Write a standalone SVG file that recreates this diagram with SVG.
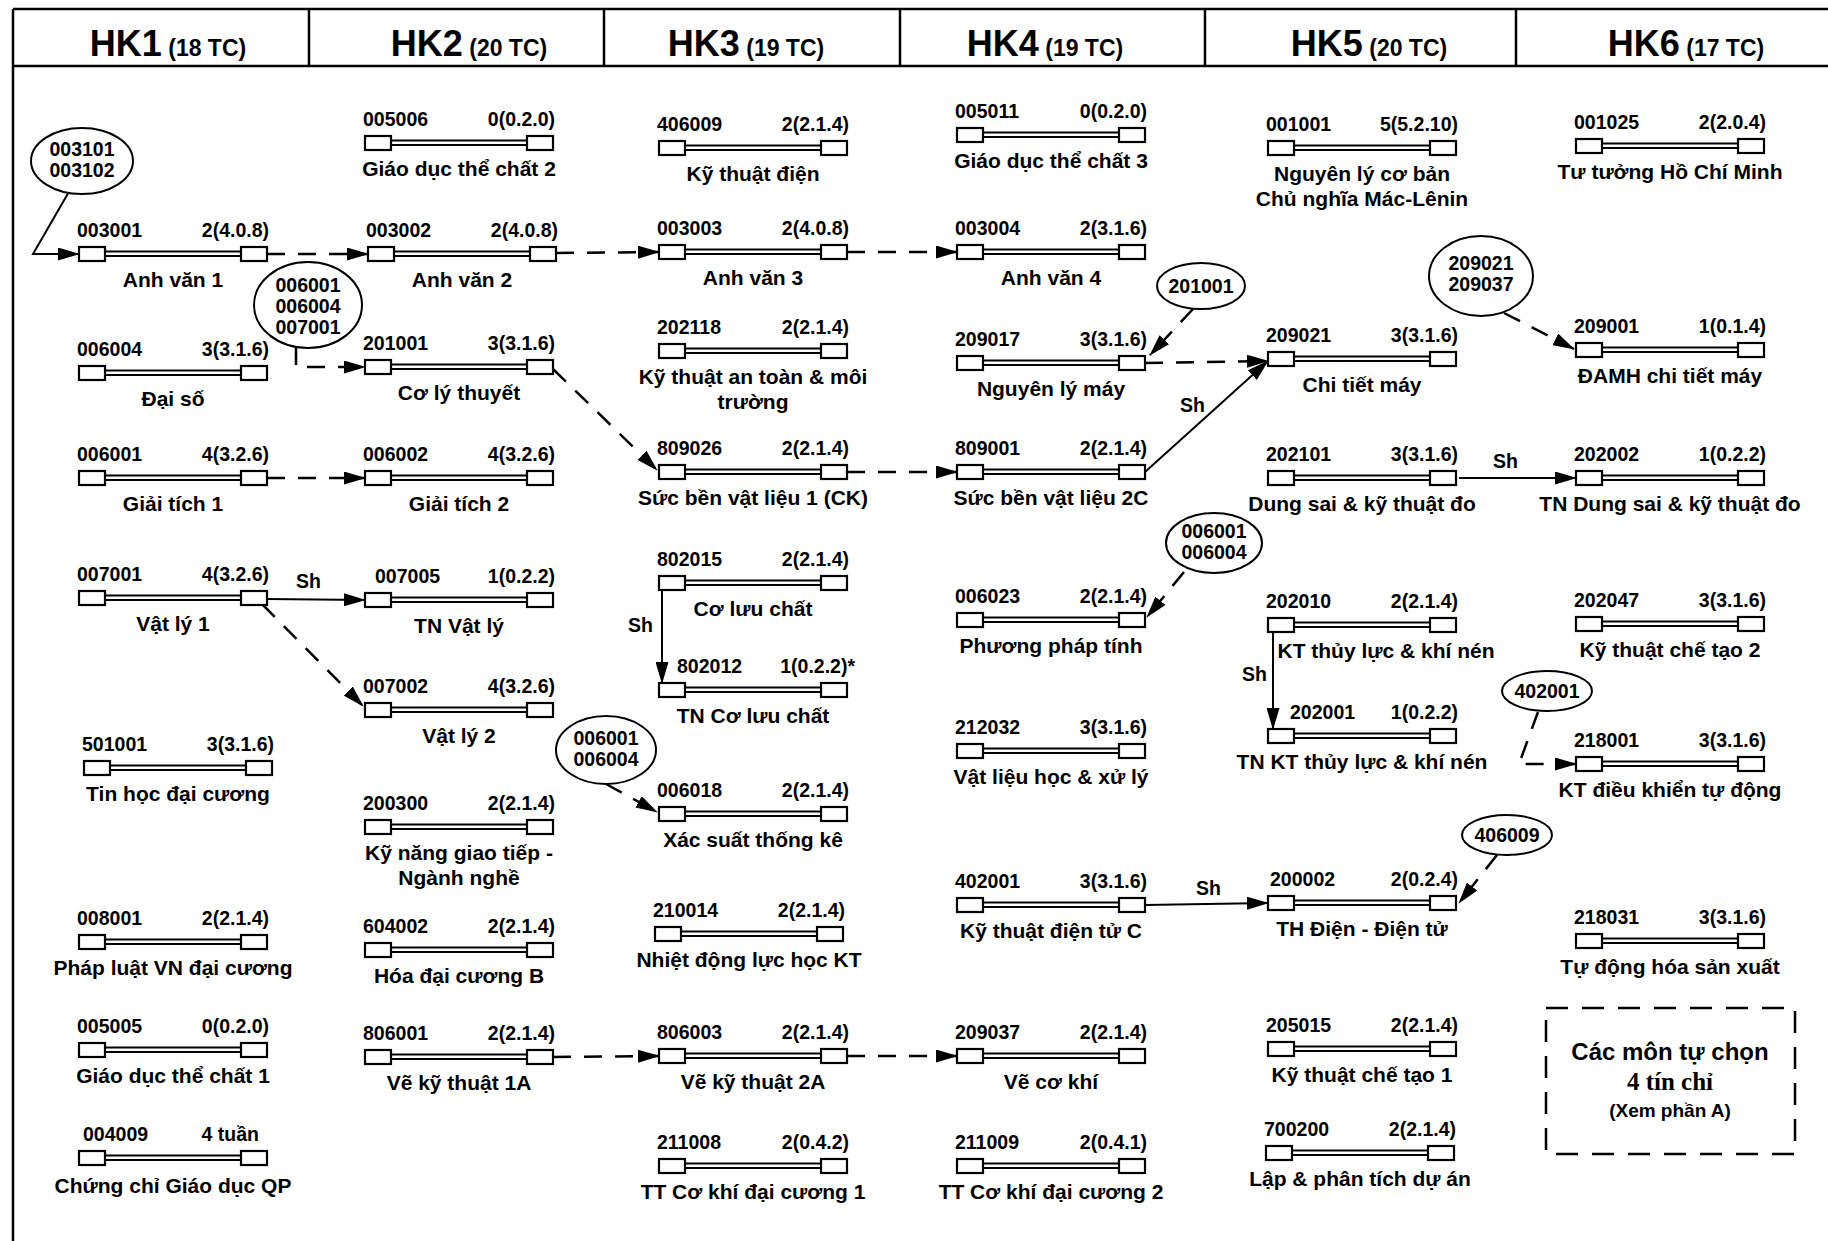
<svg xmlns="http://www.w3.org/2000/svg" xmlns:xlink="http://www.w3.org/1999/xlink" width="1828" height="1241" viewBox="0 0 1828 1241">
<style>
.t{font-family:"Liberation Sans",Arial,sans-serif;font-weight:bold;font-size:19.5px;fill:#000}
.lb{font-family:"Liberation Sans",Arial,sans-serif;font-weight:bold;font-size:21px;fill:#000;text-anchor:middle}
.e{text-anchor:end}
.m{text-anchor:middle}
.hk{font-family:"Liberation Sans",Arial,sans-serif;font-weight:bold;font-size:36px;text-anchor:middle}
.hs{font-size:23px}
.box{fill:#fff;stroke:#000;stroke-width:2.2}
.dl{stroke:#000;stroke-width:2}
.fr{stroke:#000;stroke-width:2.5;fill:none}
.ell{fill:#fff;stroke:#000;stroke-width:2}
.sol{stroke:#000;stroke-width:2;fill:none}
.das{stroke:#000;stroke-width:2.5;fill:none;stroke-dasharray:18 13}
</style>
<defs>
<marker id="ah" markerWidth="22" markerHeight="13" refX="21" refY="6.5" orient="auto" markerUnits="userSpaceOnUse">
<path d="M0,0 L22,6.5 L0,13 z" fill="#000"/>
</marker>
<g id="bar">
<line x1="24" y1="-2.5" x2="164" y2="-2.5" class="dl"/>
<line x1="24" y1="2" x2="164" y2="2" class="dl"/>
<rect x="0" y="-7" width="26" height="14" class="box"/>
<rect x="162" y="-7" width="26" height="14" class="box"/>
</g>
</defs>
<rect width="1828" height="1241" fill="#fff"/>
<g id="frame">
<line x1="13" y1="9" x2="1828" y2="9" class="fr"/>
<line x1="13" y1="66" x2="1828" y2="66" class="fr"/>
<line x1="13" y1="9" x2="13" y2="1241" class="fr"/>
<line x1="309" y1="9" x2="309" y2="66" class="fr"/>
<line x1="604" y1="9" x2="604" y2="66" class="fr"/>
<line x1="900" y1="9" x2="900" y2="66" class="fr"/>
<line x1="1205" y1="9" x2="1205" y2="66" class="fr"/>
<line x1="1516" y1="9" x2="1516" y2="66" class="fr"/>
<text class="hk" x="168" y="56">HK1<tspan class="hs"> (18 TC)</tspan></text>
<text class="hk" x="469" y="56">HK2<tspan class="hs"> (20 TC)</tspan></text>
<text class="hk" x="746" y="56">HK3<tspan class="hs"> (19 TC)</tspan></text>
<text class="hk" x="1045" y="56">HK4<tspan class="hs"> (19 TC)</tspan></text>
<text class="hk" x="1369" y="56">HK5<tspan class="hs"> (20 TC)</tspan></text>
<text class="hk" x="1686" y="56">HK6<tspan class="hs"> (17 TC)</tspan></text>
</g>
<g id="connectors">
<polyline points="70,190 33,254 79,254" class="sol" marker-end="url(#ah)"/>
<line x1="267" y1="254" x2="368" y2="254" class="das" marker-end="url(#ah)"/>
<line x1="556" y1="253" x2="659" y2="252" class="das" marker-end="url(#ah)"/>
<line x1="847" y1="252" x2="957" y2="252" class="das" marker-end="url(#ah)"/>
<polyline points="296,347 296,367 365,367" class="das" marker-end="url(#ah)"/>
<line x1="553" y1="369" x2="657" y2="470" class="das" marker-end="url(#ah)"/>
<line x1="847" y1="472" x2="957" y2="472" class="das" marker-end="url(#ah)"/>
<line x1="1145" y1="472" x2="1268" y2="361" class="sol" marker-end="url(#ah)"/>
<text class="t" x="1180" y="412">Sh</text>
<line x1="1145" y1="363" x2="1268" y2="361" class="das" marker-end="url(#ah)"/>
<line x1="1193" y1="309" x2="1150" y2="355" class="das" marker-end="url(#ah)"/>
<line x1="267" y1="478" x2="365" y2="478" class="das" marker-end="url(#ah)"/>
<line x1="267" y1="599" x2="365" y2="600" class="sol" marker-end="url(#ah)"/>
<text class="t" x="296" y="588">Sh</text>
<line x1="262" y1="604" x2="363" y2="706" class="das" marker-end="url(#ah)"/>
<line x1="662" y1="590" x2="662" y2="683" class="sol" marker-end="url(#ah)"/>
<text class="t" x="628" y="632">Sh</text>
<line x1="606" y1="784" x2="657" y2="812" class="das" marker-end="url(#ah)"/>
<line x1="1184" y1="572" x2="1147" y2="617" class="das" marker-end="url(#ah)"/>
<line x1="553" y1="1057" x2="659" y2="1056" class="das" marker-end="url(#ah)"/>
<line x1="847" y1="1056" x2="957" y2="1056" class="das" marker-end="url(#ah)"/>
<line x1="1145" y1="905" x2="1268" y2="903" class="sol" marker-end="url(#ah)"/>
<text class="t" x="1196" y="895">Sh</text>
<line x1="1497" y1="855" x2="1459" y2="903" class="das" marker-end="url(#ah)"/>
<line x1="1459" y1="478" x2="1576" y2="478" class="sol" marker-end="url(#ah)"/>
<text class="t" x="1493" y="468">Sh</text>
<line x1="1504" y1="313" x2="1574" y2="349" class="das" marker-end="url(#ah)"/>
<line x1="1273" y1="632" x2="1273" y2="729" class="sol" marker-end="url(#ah)"/>
<text class="t" x="1242" y="681">Sh</text>
<polyline points="1538,712 1519,764 1576,764" class="das" marker-end="url(#ah)"/>
</g>
<g id="ellipses">
<g id="e003101"><ellipse cx="82" cy="161" rx="51" ry="33" class="ell"/><text class="t m" x="82" y="156">003101</text><text class="t m" x="82" y="177">003102</text></g>
<g id="e006001a"><ellipse cx="308" cy="305" rx="54" ry="43" class="ell"/><text class="t m" x="308" y="292">006001</text><text class="t m" x="308" y="313">006004</text><text class="t m" x="308" y="334">007001</text></g>
<g id="e006001b"><ellipse cx="606" cy="750" rx="50" ry="34" class="ell"/><text class="t m" x="606" y="745">006001</text><text class="t m" x="606" y="766">006004</text></g>
<g id="e201001"><ellipse cx="1201" cy="286" rx="44" ry="23" class="ell"/><text class="t m" x="1201" y="293">201001</text></g>
<g id="e006001c"><ellipse cx="1214" cy="543" rx="48" ry="30" class="ell"/><text class="t m" x="1214" y="538">006001</text><text class="t m" x="1214" y="559">006004</text></g>
<g id="e209021"><ellipse cx="1481" cy="276" rx="52" ry="40" class="ell"/><text class="t m" x="1481" y="270">209021</text><text class="t m" x="1481" y="291">209037</text></g>
<g id="e402001"><ellipse cx="1547" cy="691" rx="45" ry="20" class="ell"/><text class="t m" x="1547" y="698">402001</text></g>
<g id="e406009"><ellipse cx="1507" cy="835" rx="45" ry="20" class="ell"/><text class="t m" x="1507" y="842">406009</text></g>
</g>
<g id="n003001" transform="translate(79,254)"><use xlink:href="#bar"/><text class="t" x="-2" y="-17">003001</text><text class="t e" x="190" y="-17">2(4.0.8)</text><text class="lb" x="94" y="33">Anh văn 1</text></g>
<g id="n006004" transform="translate(79,373)"><use xlink:href="#bar"/><text class="t" x="-2" y="-17">006004</text><text class="t e" x="190" y="-17">3(3.1.6)</text><text class="lb" x="94" y="33">Đại số</text></g>
<g id="n006001" transform="translate(79,478)"><use xlink:href="#bar"/><text class="t" x="-2" y="-17">006001</text><text class="t e" x="190" y="-17">4(3.2.6)</text><text class="lb" x="94" y="33">Giải tích 1</text></g>
<g id="n007001" transform="translate(79,598)"><use xlink:href="#bar"/><text class="t" x="-2" y="-17">007001</text><text class="t e" x="190" y="-17">4(3.2.6)</text><text class="lb" x="94" y="33">Vật lý 1</text></g>
<g id="n501001" transform="translate(84,768)"><use xlink:href="#bar"/><text class="t" x="-2" y="-17">501001</text><text class="t e" x="190" y="-17">3(3.1.6)</text><text class="lb" x="94" y="33">Tin học đại cương</text></g>
<g id="n008001" transform="translate(79,942)"><use xlink:href="#bar"/><text class="t" x="-2" y="-17">008001</text><text class="t e" x="190" y="-17">2(2.1.4)</text><text class="lb" x="94" y="33">Pháp luật VN đại cương</text></g>
<g id="n005005" transform="translate(79,1050)"><use xlink:href="#bar"/><text class="t" x="-2" y="-17">005005</text><text class="t e" x="190" y="-17">0(0.2.0)</text><text class="lb" x="94" y="33">Giáo dục thể chất 1</text></g>
<g id="n004009" transform="translate(79,1158)"><use xlink:href="#bar"/><text class="t" x="4" y="-17">004009</text><text class="t e" x="180" y="-17">4 tuần</text><text class="lb" x="94" y="35">Chứng chỉ Giáo dục QP</text></g>
<g id="n005006" transform="translate(365,143)"><use xlink:href="#bar"/><text class="t" x="-2" y="-17">005006</text><text class="t e" x="190" y="-17">0(0.2.0)</text><text class="lb" x="94" y="33">Giáo dục thể chất 2</text></g>
<g id="n003002" transform="translate(368,254)"><use xlink:href="#bar"/><text class="t" x="-2" y="-17">003002</text><text class="t e" x="190" y="-17">2(4.0.8)</text><text class="lb" x="94" y="33">Anh văn 2</text></g>
<g id="n201001" transform="translate(365,367)"><use xlink:href="#bar"/><text class="t" x="-2" y="-17">201001</text><text class="t e" x="190" y="-17">3(3.1.6)</text><text class="lb" x="94" y="33">Cơ lý thuyết</text></g>
<g id="n006002" transform="translate(365,478)"><use xlink:href="#bar"/><text class="t" x="-2" y="-17">006002</text><text class="t e" x="190" y="-17">4(3.2.6)</text><text class="lb" x="94" y="33">Giải tích 2</text></g>
<g id="n007005" transform="translate(365,600)"><use xlink:href="#bar"/><text class="t" x="10" y="-17">007005</text><text class="t e" x="190" y="-17">1(0.2.2)</text><text class="lb" x="94" y="33">TN Vật lý</text></g>
<g id="n007002" transform="translate(365,710)"><use xlink:href="#bar"/><text class="t" x="-2" y="-17">007002</text><text class="t e" x="190" y="-17">4(3.2.6)</text><text class="lb" x="94" y="33">Vật lý 2</text></g>
<g id="n200300" transform="translate(365,827)"><use xlink:href="#bar"/><text class="t" x="-2" y="-17">200300</text><text class="t e" x="190" y="-17">2(2.1.4)</text><text class="lb" x="94" y="33">Kỹ năng giao tiếp -</text><text class="lb" x="94" y="58">Ngành nghề</text></g>
<g id="n604002" transform="translate(365,950)"><use xlink:href="#bar"/><text class="t" x="-2" y="-17">604002</text><text class="t e" x="190" y="-17">2(2.1.4)</text><text class="lb" x="94" y="33">Hóa đại cương B</text></g>
<g id="n806001" transform="translate(365,1057)"><use xlink:href="#bar"/><text class="t" x="-2" y="-17">806001</text><text class="t e" x="190" y="-17">2(2.1.4)</text><text class="lb" x="94" y="33">Vẽ kỹ thuật 1A</text></g>
<g id="n406009" transform="translate(659,148)"><use xlink:href="#bar"/><text class="t" x="-2" y="-17">406009</text><text class="t e" x="190" y="-17">2(2.1.4)</text><text class="lb" x="94" y="33">Kỹ thuật điện</text></g>
<g id="n003003" transform="translate(659,252)"><use xlink:href="#bar"/><text class="t" x="-2" y="-17">003003</text><text class="t e" x="190" y="-17">2(4.0.8)</text><text class="lb" x="94" y="33">Anh văn 3</text></g>
<g id="n202118" transform="translate(659,351)"><use xlink:href="#bar"/><text class="t" x="-2" y="-17">202118</text><text class="t e" x="190" y="-17">2(2.1.4)</text><text class="lb" x="94" y="33">Kỹ thuật an toàn &amp; môi</text><text class="lb" x="94" y="58">trường</text></g>
<g id="n809026" transform="translate(659,472)"><use xlink:href="#bar"/><text class="t" x="-2" y="-17">809026</text><text class="t e" x="190" y="-17">2(2.1.4)</text><text class="lb" x="94" y="33">Sức bền vật liệu 1 (CK)</text></g>
<g id="n802015" transform="translate(659,583)"><use xlink:href="#bar"/><text class="t" x="-2" y="-17">802015</text><text class="t e" x="190" y="-17">2(2.1.4)</text><text class="lb" x="94" y="33">Cơ lưu chất</text></g>
<g id="n802012" transform="translate(659,690)"><use xlink:href="#bar"/><text class="t" x="18" y="-17">802012</text><text class="t e" x="196" y="-17">1(0.2.2)*</text><text class="lb" x="94" y="33">TN Cơ lưu chất</text></g>
<g id="n006018" transform="translate(659,814)"><use xlink:href="#bar"/><text class="t" x="-2" y="-17">006018</text><text class="t e" x="190" y="-17">2(2.1.4)</text><text class="lb" x="94" y="33">Xác suất thống kê</text></g>
<g id="n210014" transform="translate(655,934)"><use xlink:href="#bar"/><text class="t" x="-2" y="-17">210014</text><text class="t e" x="190" y="-17">2(2.1.4)</text><text class="lb" x="94" y="33">Nhiệt động lực học KT</text></g>
<g id="n806003" transform="translate(659,1056)"><use xlink:href="#bar"/><text class="t" x="-2" y="-17">806003</text><text class="t e" x="190" y="-17">2(2.1.4)</text><text class="lb" x="94" y="33">Vẽ kỹ thuật 2A</text></g>
<g id="n211008" transform="translate(659,1166)"><use xlink:href="#bar"/><text class="t" x="-2" y="-17">211008</text><text class="t e" x="190" y="-17">2(0.4.2)</text><text class="lb" x="94" y="33">TT Cơ khí đại cương 1</text></g>
<g id="n005011" transform="translate(957,135)"><use xlink:href="#bar"/><text class="t" x="-2" y="-17">005011</text><text class="t e" x="190" y="-17">0(0.2.0)</text><text class="lb" x="94" y="33">Giáo dục thể chất 3</text></g>
<g id="n003004" transform="translate(957,252)"><use xlink:href="#bar"/><text class="t" x="-2" y="-17">003004</text><text class="t e" x="190" y="-17">2(3.1.6)</text><text class="lb" x="94" y="33">Anh văn 4</text></g>
<g id="n209017" transform="translate(957,363)"><use xlink:href="#bar"/><text class="t" x="-2" y="-17">209017</text><text class="t e" x="190" y="-17">3(3.1.6)</text><text class="lb" x="94" y="33">Nguyên lý máy</text></g>
<g id="n809001" transform="translate(957,472)"><use xlink:href="#bar"/><text class="t" x="-2" y="-17">809001</text><text class="t e" x="190" y="-17">2(2.1.4)</text><text class="lb" x="94" y="33">Sức bền vật liệu 2C</text></g>
<g id="n006023" transform="translate(957,620)"><use xlink:href="#bar"/><text class="t" x="-2" y="-17">006023</text><text class="t e" x="190" y="-17">2(2.1.4)</text><text class="lb" x="94" y="33">Phương pháp tính</text></g>
<g id="n212032" transform="translate(957,751)"><use xlink:href="#bar"/><text class="t" x="-2" y="-17">212032</text><text class="t e" x="190" y="-17">3(3.1.6)</text><text class="lb" x="94" y="33">Vật liệu học &amp; xử lý</text></g>
<g id="n402001" transform="translate(957,905)"><use xlink:href="#bar"/><text class="t" x="-2" y="-17">402001</text><text class="t e" x="190" y="-17">3(3.1.6)</text><text class="lb" x="94" y="33">Kỹ thuật điện tử C</text></g>
<g id="n209037" transform="translate(957,1056)"><use xlink:href="#bar"/><text class="t" x="-2" y="-17">209037</text><text class="t e" x="190" y="-17">2(2.1.4)</text><text class="lb" x="94" y="33">Vẽ cơ khí</text></g>
<g id="n211009" transform="translate(957,1166)"><use xlink:href="#bar"/><text class="t" x="-2" y="-17">211009</text><text class="t e" x="190" y="-17">2(0.4.1)</text><text class="lb" x="94" y="33">TT Cơ khí đại cương 2</text></g>
<g id="n001001" transform="translate(1268,148)"><use xlink:href="#bar"/><text class="t" x="-2" y="-17">001001</text><text class="t e" x="190" y="-17">5(5.2.10)</text><text class="lb" x="94" y="33">Nguyên lý cơ bản</text><text class="lb" x="94" y="58">Chủ nghĩa Mác-Lênin</text></g>
<g id="n209021" transform="translate(1268,359)"><use xlink:href="#bar"/><text class="t" x="-2" y="-17">209021</text><text class="t e" x="190" y="-17">3(3.1.6)</text><text class="lb" x="94" y="33">Chi tiết máy</text></g>
<g id="n202101" transform="translate(1268,478)"><use xlink:href="#bar"/><text class="t" x="-2" y="-17">202101</text><text class="t e" x="190" y="-17">3(3.1.6)</text><text class="lb" x="94" y="33">Dung sai &amp; kỹ thuật đo</text></g>
<g id="n202010" transform="translate(1268,625)"><use xlink:href="#bar"/><text class="t" x="-2" y="-17">202010</text><text class="t e" x="190" y="-17">2(2.1.4)</text><text class="lb" x="118" y="33">KT thủy lực &amp; khí nén</text></g>
<g id="n202001" transform="translate(1268,736)"><use xlink:href="#bar"/><text class="t" x="22" y="-17">202001</text><text class="t e" x="190" y="-17">1(0.2.2)</text><text class="lb" x="94" y="33">TN KT thủy lực &amp; khí nén</text></g>
<g id="n200002" transform="translate(1268,903)"><use xlink:href="#bar"/><text class="t" x="2" y="-17">200002</text><text class="t e" x="190" y="-17">2(0.2.4)</text><text class="lb" x="94" y="33">TH Điện - Điện tử</text></g>
<g id="n205015" transform="translate(1268,1049)"><use xlink:href="#bar"/><text class="t" x="-2" y="-17">205015</text><text class="t e" x="190" y="-17">2(2.1.4)</text><text class="lb" x="94" y="33">Kỹ thuật chế tạo 1</text></g>
<g id="n700200" transform="translate(1266,1153)"><use xlink:href="#bar"/><text class="t" x="-2" y="-17">700200</text><text class="t e" x="190" y="-17">2(2.1.4)</text><text class="lb" x="94" y="33">Lập &amp; phân tích dự án</text></g>
<g id="n001025" transform="translate(1576,146)"><use xlink:href="#bar"/><text class="t" x="-2" y="-17">001025</text><text class="t e" x="190" y="-17">2(2.0.4)</text><text class="lb" x="94" y="33">Tư tưởng Hồ Chí Minh</text></g>
<g id="n209001" transform="translate(1576,350)"><use xlink:href="#bar"/><text class="t" x="-2" y="-17">209001</text><text class="t e" x="190" y="-17">1(0.1.4)</text><text class="lb" x="94" y="33">ĐAMH chi tiết máy</text></g>
<g id="n202002" transform="translate(1576,478)"><use xlink:href="#bar"/><text class="t" x="-2" y="-17">202002</text><text class="t e" x="190" y="-17">1(0.2.2)</text><text class="lb" x="94" y="33">TN Dung sai &amp; kỹ thuật đo</text></g>
<g id="n202047" transform="translate(1576,624)"><use xlink:href="#bar"/><text class="t" x="-2" y="-17">202047</text><text class="t e" x="190" y="-17">3(3.1.6)</text><text class="lb" x="94" y="33">Kỹ thuật chế tạo 2</text></g>
<g id="n218001" transform="translate(1576,764)"><use xlink:href="#bar"/><text class="t" x="-2" y="-17">218001</text><text class="t e" x="190" y="-17">3(3.1.6)</text><text class="lb" x="94" y="33">KT điều khiển tự động</text></g>
<g id="n218031" transform="translate(1576,941)"><use xlink:href="#bar"/><text class="t" x="-2" y="-17">218031</text><text class="t e" x="190" y="-17">3(3.1.6)</text><text class="lb" x="94" y="33">Tự động hóa sản xuất</text></g>
<g id="elective">
<rect x="1546" y="1008" width="249" height="146" class="das" style="stroke-dasharray:22 14"/>
<text class="t m" x="1670" y="1060" style="font-size:24px">Các môn tự chọn</text>
<text class="m" x="1670" y="1090" style="font-family:'Liberation Serif','Times New Roman',serif;font-weight:bold;font-size:25px">4 tín chỉ</text>
<text class="t m" x="1670" y="1117" style="font-size:19px">(Xem phần A)</text>
</g>
</svg>
